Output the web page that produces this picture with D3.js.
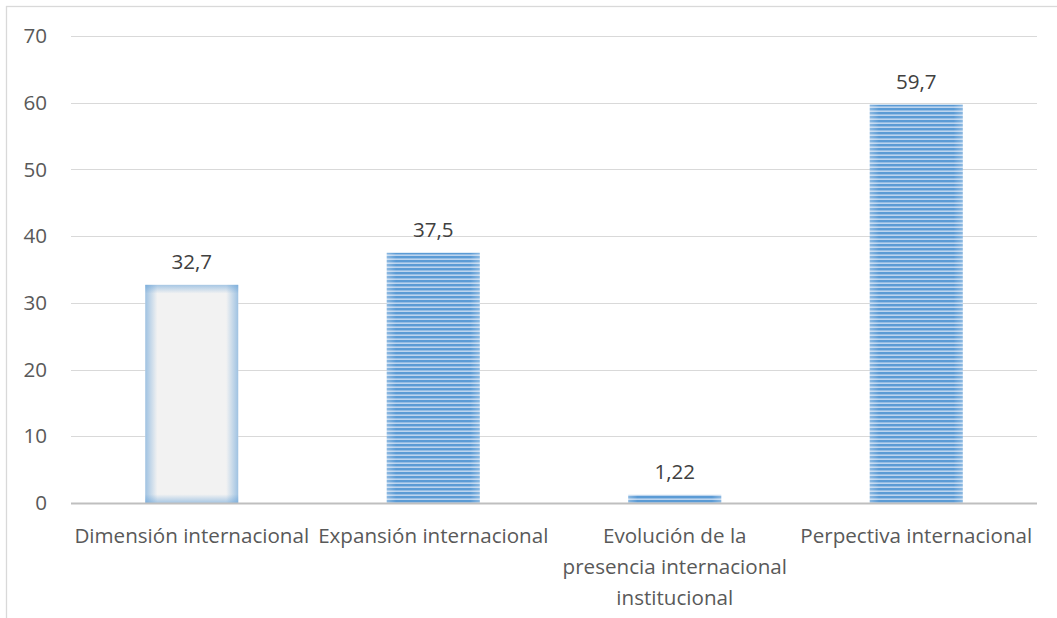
<!DOCTYPE html>
<html>
<head>
<meta charset="utf-8">
<script src="https://cdn.jsdelivr.net/npm/d3@7"></script>
<style>
  html, body { margin: 0; padding: 0; background: #fff; }
  svg { display: block; }
</style>
</head>
<body>
<svg id="chart" width="1057" height="618"></svg>
<script>
// Categories, values and tick labels
const categories = [
  "Dimensión internacional",
  "Expansión internacional",
  "Evolución de la presencia internacional institucional",
  "Perpectiva internacional"
];
const values = [32.7, 37.5, 1.22, 59.7];
const valueLabels = ["32,7", "37,5", "1,22", "59,7"];
const barStyles = ["plain", "striped", "striped", "striped"];
const yTicks = [0, 10, 20, 30, 40, 50, 60, 70];
// Category labels wrapped onto lines as they are displayed
const categoryLines = [
  ["Dimensión internacional"],
  ["Expansión internacional"],
  ["Evolución de la", "presencia internacional", "institucional"],
  ["Perpectiva internacional"]
];

const margin = { left: 71, top: 36 };
const plotRight = 1037, plotBottom = 503;
const FONT = "'Open Sans', 'Noto Sans', sans-serif";
const FS = 20.6;
const textColor = "#595959";

const svg = d3.select("#chart");
const defs = svg.append("defs");

// Horizontal stripe pattern for the blue bars
const pat = defs.append("pattern")
  .attr("id", "stripes").attr("patternUnits", "userSpaceOnUse")
  .attr("width", 8).attr("height", 4);
pat.append("rect").attr("width", 8).attr("height", 4).attr("fill", "#bcd4ee");
pat.append("rect").attr("width", 8).attr("height", 2.4).attr("fill", "#5b9bd5");

// Soft blue edge glow (horizontal and vertical gradients)
function edgeGradient(id, x2, y2, stops) {
  const g = defs.append("linearGradient").attr("id", id)
    .attr("x1", 0).attr("y1", 0).attr("x2", x2).attr("y2", y2);
  stops.forEach(s => g.append("stop").attr("offset", s[0])
    .attr("stop-color", s[1]).attr("stop-opacity", s[2]));
}
edgeGradient("glowH", 1, 0, [[0, "#5b9bd5", 0.55], [0.13, "#5b9bd5", 0.0], [0.87, "#5b9bd5", 0.0], [1, "#5b9bd5", 0.55]]);
edgeGradient("glowV", 0, 1, [[0, "#5b9bd5", 0.5], [0.04, "#5b9bd5", 0.0], [0.96, "#5b9bd5", 0.0], [1, "#5b9bd5", 0.5]]);
edgeGradient("glowHs", 1, 0, [[0, "#ffffff", 0.3], [0.1, "#ffffff", 0.0], [0.9, "#ffffff", 0.0], [1, "#ffffff", 0.3]]);

// Outer chart frame
svg.append("rect")
  .attr("x", 6.5).attr("y", 6.5).attr("width", 1200).attr("height", 800)
  .attr("fill", "none").attr("stroke", "#d9d9d9").attr("stroke-width", 1.3);

const x = d3.scaleBand().domain(categories).range([margin.left, plotRight])
  .paddingInner(0.615).paddingOuter(0.3075);
const y = d3.scaleLinear().domain([0, 70]).range([plotBottom, margin.top]);

// Gridlines
svg.append("g").selectAll("line").data(yTicks.filter(t => t > 0)).join("line")
  .attr("x1", margin.left).attr("x2", plotRight)
  .attr("y1", d => Math.round(y(d)) + 0.5).attr("y2", d => Math.round(y(d)) + 0.5)
  .attr("stroke", "#d9d9d9").attr("stroke-width", 1);

// Y axis tick labels
const yAxis = d3.axisLeft(y).tickValues(yTicks).tickSize(0).tickPadding(0);
const yg = svg.append("g").attr("transform", `translate(47,0)`).call(yAxis);
yg.select(".domain").remove();
yg.selectAll("text").attr("font-family", FONT).attr("font-size", FS)
  .attr("fill", textColor);

// Bars
const bars = svg.append("g").selectAll("g").data(values).join("g");
bars.each(function (v, i) {
  const g = d3.select(this);
  const bx = x(categories[i]), bw = x.bandwidth();
  const top = y(v), h = plotBottom - y(v);
  if (barStyles[i] === "plain") {
    g.append("rect").attr("x", bx).attr("y", top).attr("width", bw).attr("height", h)
      .attr("fill", "#f2f2f2");
    g.append("rect").attr("x", bx).attr("y", top).attr("width", bw).attr("height", h)
      .attr("fill", "url(#glowH)");
    g.append("rect").attr("x", bx).attr("y", top).attr("width", bw).attr("height", h)
      .attr("fill", "url(#glowV)");
  } else {
    g.append("rect").attr("x", bx).attr("y", top).attr("width", bw).attr("height", h)
      .attr("fill", "url(#stripes)");
    g.append("rect").attr("x", bx).attr("y", top).attr("width", bw).attr("height", h)
      .attr("fill", "url(#glowHs)");
  }
});

// Baseline axis
svg.append("line")
  .attr("x1", margin.left).attr("x2", plotRight)
  .attr("y1", plotBottom + 0.5).attr("y2", plotBottom + 0.5)
  .attr("stroke", "#bfbfbf").attr("stroke-width", 2.2);

// Value labels above bars
svg.append("g").selectAll("text").data(values).join("text")
  .attr("x", (d, i) => x(categories[i]) + x.bandwidth() / 2)
  .attr("y", d => y(d) - 16)
  .attr("text-anchor", "middle")
  .attr("font-family", FONT).attr("font-size", FS).attr("fill", "#404040")
  .text((d, i) => valueLabels[i]);

// Category labels
const catG = svg.append("g").selectAll("text").data(categories).join("text")
  .attr("text-anchor", "middle")
  .attr("font-family", FONT).attr("font-size", FS).attr("fill", textColor)
  .attr("transform", d => `translate(${x(d) + x.bandwidth() / 2},543)`);
catG.each(function (d, i) {
  d3.select(this).selectAll("tspan").data(categoryLines[i]).join("tspan")
    .attr("x", 0).attr("dy", (l, j) => j === 0 ? 0 : 31).text(l => l);
});
</script>
</body>
</html>
